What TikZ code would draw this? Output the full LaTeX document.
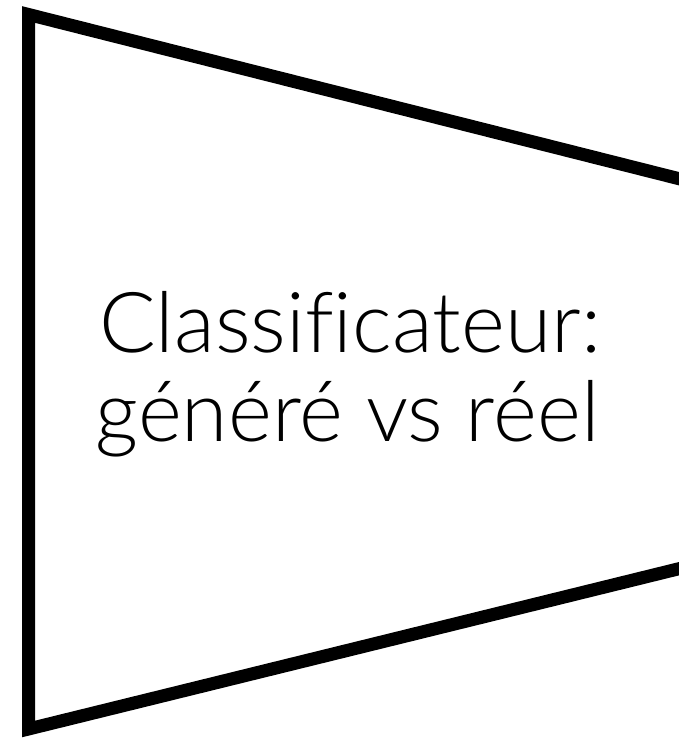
\documentclass[tikz,border=0pt]{standalone}
\usepackage{fontspec}
\setmainfont{Lato Light}[Ligatures=NoCommon]
\usetikzlibrary{positioning}

\begin{document}
\begin{tikzpicture}[x=1pt,y=1pt]
            % Picture frame
            \useasboundingbox (0,0) rectangle (679,738);
            \clip (0,0) rectangle (679,738);
            % Classifier block (right side runs off the page)
            \draw[line width=13pt, line join=miter]
                (28.5,723.5) -- (692,556) -- (692,172.5) -- (28.5,9) -- cycle;
            % Label
            \node[font=\fontsize{84}{89}\selectfont, anchor=base] (titre) at (350,385) {Classificateur:};
            \node[font=\fontsize{84}{89}\selectfont, anchor=base] (classes) at (347.5,296) {généré vs réel};
        \end{tikzpicture}
\end{document}
